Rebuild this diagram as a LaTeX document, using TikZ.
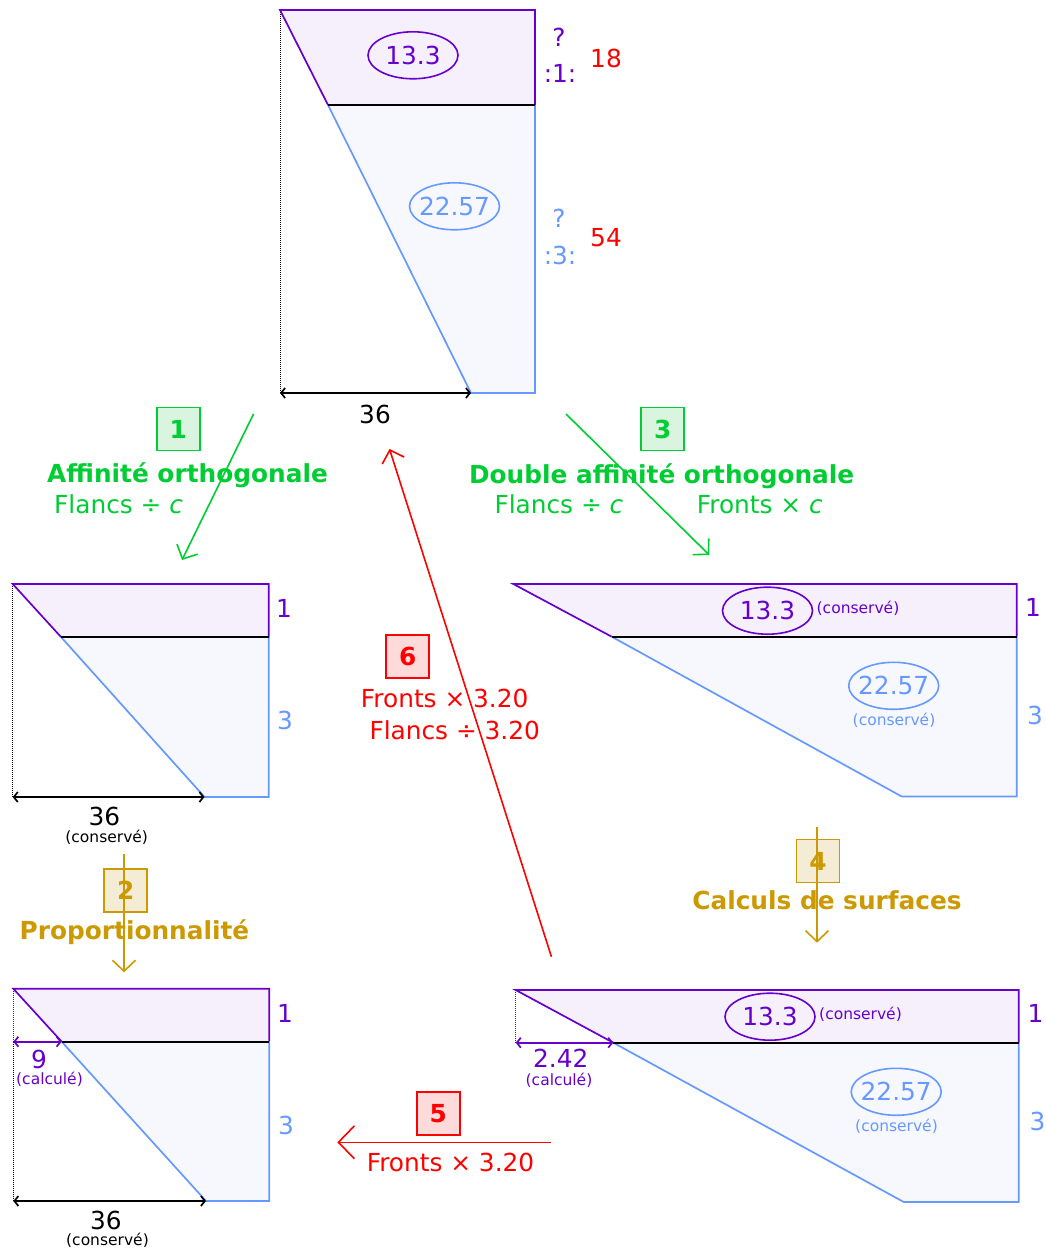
\documentclass[tikz,border=0pt]{standalone}
\usepackage{fontspec}
\setmainfont{DejaVu Sans}
\usetikzlibrary{arrows.meta,shapes.geometric}
\definecolor{purp}{RGB}{102,0,204}
\definecolor{pfill}{RGB}{245,240,252}
\definecolor{blu}{RGB}{102,153,255}
\definecolor{bfill}{RGB}{247,248,254}
\definecolor{grn}{RGB}{0,204,51}
\definecolor{gfill}{RGB}{217,245,223}
\definecolor{gold}{RGB}{204,153,0}
\definecolor{ofill}{RGB}{245,236,214}
\definecolor{rd}{RGB}{255,0,0}
\definecolor{rfill}{RGB}{255,218,218}
\newcommand\drawtrap[7]{%
  \fill[pfill] (#1,#2) -- (#3,#2) -- (#3,#4) -- (#5,#4) -- cycle;
  \fill[bfill] (#5,#4) -- (#3,#4) -- (#3,#6) -- (#7,#6) -- cycle;
  \draw[purp,figline] (#5,#4) -- (#1,#2) -- (#3,#2) -- (#3,#4);
  \draw[blu,figline] (#3,#4) -- (#3,#6) -- (#7,#6) -- (#5,#4);
  \draw[black,figline] (#5,#4) -- (#3,#4);
}
\newcommand\ovaltext[1]{\makebox[40pt][c]{#1}}
\begin{document}
\begin{tikzpicture}[x=1pt,y=-1pt,
  figline/.style={line width=1.7pt},
  dotline/.style={line width=1pt,dash pattern=on 1pt off 1pt},
  dimline/.style={line width=1.7pt,{Straight Barb[length=4pt,width=10pt]}-{Straight Barb[length=4pt,width=10pt]}},
  txt/.style={font=\fontsize{24.8}{29}\selectfont,inner sep=0pt,anchor=base},
  sm/.style={font=\fontsize{15.5}{18}\selectfont,inner sep=0pt,anchor=base},
  ttl/.style={font=\fontsize{24.8}{29}\selectfont\bfseries,inner sep=0pt,anchor=base},
  numbox/.style={draw,line width=1.5pt,minimum width=43pt,minimum height=43pt,inner sep=0pt,font=\fontsize{24.8}{29}\selectfont\bfseries},
  oval/.style={ellipse,draw,line width=1.6pt,minimum width=90pt,minimum height=47pt,inner sep=0pt,font=\fontsize{24.8}{29}\selectfont},
  conn/.style={line width=1.6pt,-{Straight Barb[length=11pt,width=23pt]}},
  bigconn/.style={line width=1.6pt,-{Straight Barb[length=16pt,width=33pt]}}
]
\useasboundingbox (0,0) rectangle (1045,1249);

% ---------- Figure A (top) ----------
\draw[dotline] (280,10) -- (280,393);
\drawtrap{280}{10}{535}{105}{328}{393}{471}
\draw[dimline] (280,393) -- (471,393);
\node[oval,purp] (a13) at (413,55.3) {\ovaltext{13.3}};
\node[oval,blu] (a22) at (454.5,206.3) {\ovaltext{22.57}};
\node[txt] (a36) at (375,423) {36};
\node[txt,purp] (aq1) at (559,47) {?};
\node[txt,purp] (ar1) at (560,83) {:1:};
\node[txt,rd] (a18) at (606,68) {18};
\node[txt,blu] (aq3) at (559,228) {?};
\node[txt,blu] (ar3) at (560,265) {:3:};
\node[txt,rd] (a54) at (606,247) {54};

% ---------- Figure B (middle left) ----------
\draw[dotline] (12.7,584) -- (12.7,797);
\drawtrap{12.7}{584}{268.7}{637}{61}{797}{204.5}
\draw[dimline] (12.7,797) -- (204.5,797);
\node[txt,purp] (b1) at (284,617) {1};
\node[txt,blu] (b3) at (285,729) {3};
\node[txt] (b36) at (104.5,825) {36};
\node[sm] (bc) at (106.7,842) {(conservé)};

% ---------- Figure C (bottom left) ----------
\draw[dotline,purp] (13.3,988.7) -- (13.3,1041.7);
\draw[dotline] (13.3,1041.7) -- (13.3,1201);
\drawtrap{13.3}{988.7}{269.3}{1041.7}{61.7}{1201}{206}
\draw[dimline,purp] (13.3,1041.7) -- (61.7,1041.7);
\draw[dimline] (13.3,1201) -- (206,1201);
\node[txt,purp] (c1) at (285,1022) {1};
\node[txt,blu] (c3) at (286,1134) {3};
\node[txt,purp] (c9) at (39,1068) {9};
\node[sm,purp] (ccal) at (49.5,1084.5) {(calculé)};
\node[txt] (c36) at (106,1229) {36};
\node[sm] (cc) at (107.5,1245) {(conservé)};

% ---------- Figure D (middle right) ----------
\drawtrap{513.3}{584}{1016.7}{636.7}{611.7}{796.5}{901.7}
\node[oval,purp] (d13) at (767.5,610.7) {\ovaltext{13.3}};
\node[sm,purp] (dc1) at (858,613) {(conservé)};
\node[oval,blu] (d22) at (893.7,685.8) {\ovaltext{22.57}};
\node[sm,blu] (dc2) at (894,725) {(conservé)};
\node[txt,purp] (d1) at (1033,616.7) {1};
\node[txt,blu] (d3) at (1035,724.3) {3};

% ---------- Figure E (bottom right) ----------
\draw[dotline,purp] (515.7,990) -- (515.7,1042.7);
\drawtrap{515.7}{990}{1018.7}{1042.7}{613.3}{1202}{903.7}
\draw[dimline,purp] (515.7,1042.7) -- (613.3,1042.7);
\node[txt,purp] (e242) at (560.8,1067.3) {2.42};
\node[sm,purp] (ecal) at (559,1085.5) {(calculé)};
\node[oval,purp] (e13) at (770,1016.7) {\ovaltext{13.3}};
\node[sm,purp] (ec1) at (860.5,1019) {(conservé)};
\node[oval,blu] (e22) at (896.2,1091.8) {\ovaltext{22.57}};
\node[sm,blu] (ec2) at (896.5,1131) {(conservé)};
\node[txt,purp] (e1) at (1035.5,1022.7) {1};
\node[txt,blu] (e3) at (1037.5,1130.3) {3};

% ---------- Step 1 ----------
\node[numbox,grn,fill=gfill] (s1) at (178.3,429) {1};
\node[ttl,grn] (t1) at (187.5,482.3) {Affinité orthogonale};
\node[txt,grn,anchor=base west] (f1) at (54,513) {Flancs ÷ \textit{c}};
\coordinate (s1a) at (253.5,414);
\coordinate (s1b) at (182,560);
\draw[conn,grn] (s1a) -- (s1b);

% ---------- Step 3 ----------
\node[numbox,grn,fill=gfill] (s3) at (662.7,429) {3};
\node[ttl,grn] (t3) at (661.7,483) {Double affinité orthogonale};
\node[txt,grn,anchor=base west] (f3) at (494.3,513) {Flancs ÷ \textit{c}};
\node[txt,grn,anchor=base west] (g3) at (696.7,513) {Fronts × \textit{c}};
\coordinate (s3a) at (566,414);
\coordinate (s3b) at (709.3,555);
\draw[conn,grn] (s3a) -- (s3b);

% ---------- Step 2 ----------
\node[numbox,gold,fill=ofill] (s2) at (125.7,890.3) {2};
\node[ttl,gold] (t2) at (134.5,939) {Proportionnalité};
\coordinate (s2a) at (124,854);
\coordinate (s2b) at (124,972.3);
\draw[conn,gold] (s2a) -- (s2b);

% ---------- Step 4 ----------
\node[numbox,gold,fill=ofill] (s4) at (818,861) {4};
\node[ttl,gold] (t4) at (827,909.5) {Calculs de surfaces};
\coordinate (s4a) at (817,827.3);
\coordinate (s4b) at (817,942.7);
\draw[conn,gold] (s4a) -- (s4b);

% ---------- Step 5 ----------
\node[numbox,rd,fill=rfill] (s5) at (438.3,1113.7) {5};
\node[txt,rd] (t5) at (450.5,1171.7) {Fronts × 3.20};
\coordinate (s5a) at (550.7,1142.3);
\coordinate (s5b) at (337.3,1142.3);
\draw[bigconn,rd] (s5a) -- (s5b);

% ---------- Step 6 ----------
\node[numbox,rd,fill=rfill] (s6) at (407.7,656.7) {6};
\node[txt,rd] (t6a) at (444.7,707.3) {Fronts × 3.20};
\node[txt,rd] (t6b) at (454.7,739) {Flancs ÷ 3.20};
\coordinate (s6a) at (551.4,956.7);
\coordinate (s6b) at (389.5,449);
\draw[conn,rd] (s6a) -- (s6b);
\end{tikzpicture}
\end{document}
